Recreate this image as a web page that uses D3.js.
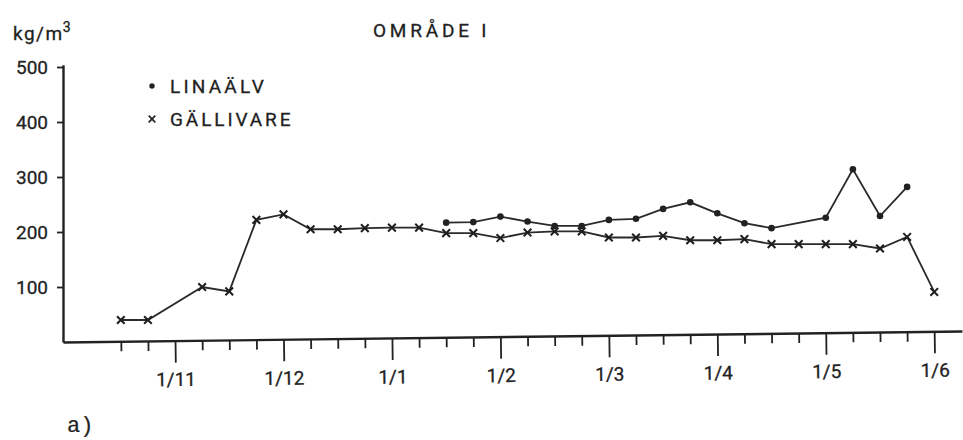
<!DOCTYPE html>
<html>
<head>
<meta charset="utf-8">
<script src="https://cdn.jsdelivr.net/npm/d3@7"></script>
<style>
  html, body { margin: 0; padding: 0; background: #ffffff; }
  svg { display: block; }
  text { font-family: Roboto, "Open Sans", sans-serif; fill: #222; stroke: #222; stroke-width: 0.3px; }
</style>
</head>
<body>
<svg id="chart" width="963" height="440"></svg>
<script>
// Time axis in months after 1 October (1 = 1/11, 8 = 1/6)
const monthTicks = [1, 2, 3, 4, 5, 6, 7, 8];
const monthLabels = ["1/11", "1/12", "1/1", "1/2", "1/3", "1/4", "1/5", "1/6"];
const minorTicks = d3.range(0.5, 8.01, 0.25);

const yTicks = [100, 200, 300, 400, 500];

const gallivareT = [0.5, 0.75, 1.25, 1.5, 1.75, 2.0, 2.25, 2.5, 2.75, 3.0, 3.25, 3.5, 3.75, 4.0, 4.25, 4.5, 4.75, 5.0, 5.25, 5.5, 5.75, 6.0, 6.25, 6.5, 6.75, 7.0, 7.25, 7.5, 7.75, 8.0];
const gallivareV = [40, 40, 100, 92, 222, 232, 205, 205, 207, 208, 208, 198, 198, 189, 199, 201, 201, 190, 190, 193, 185, 185, 187, 178, 178, 178, 178, 170, 191, 91];

const linaT = [3.5, 3.75, 4.0, 4.25, 4.5, 4.75, 5.0, 5.25, 5.5, 5.75, 6.0, 6.25, 6.5, 7.0, 7.25, 7.5, 7.75];
const linaV = [217, 218, 228, 219, 211, 211, 222, 224, 242, 254, 234, 216, 207, 226, 314, 229, 282];

const seriesNames = ["LINAÄLV", "GÄLLIVARE"];
const titleText = "OMRÅDE I";
const unitText = "kg/m";
const panelText = "a)";

const ink = "#222";
const svg = d3.select("#chart");
svg.append("rect").attr("width", 963).attr("height", 440).attr("fill", "#ffffff");

const x = d3.scaleLinear().domain([-0.033, 8.256]).range([63, 962]);
const y = d3.scaleLinear().domain([0, 504]).range([342, 64.8]);

// X axis (slightly tilted like the original drawing)
const xAxis = d3.axisBottom(x)
  .tickValues(minorTicks)
  .tickSize(22)
  .tickPadding(10)
  .tickSizeOuter(0)
  .tickFormat(d => {
    const i = monthTicks.indexOf(d);
    return i >= 0 ? monthLabels[i] : "";
  });
const gx = svg.append("g")
  .attr("transform", "translate(0,342) rotate(-0.7,63,0)")
  .call(xAxis);
gx.select(".domain").attr("stroke", ink).attr("stroke-width", 2.4);
gx.selectAll(".tick line")
  .attr("stroke", ink).attr("stroke-width", 1.8)
  .attr("y2", d => monthTicks.includes(d) ? 22 : 10);
gx.selectAll(".tick text")
  .attr("font-size", 19).attr("fill", ink);

// Y axis
const yAxis = d3.axisLeft(y).tickValues(yTicks).tickSize(6).tickPadding(9).tickSizeOuter(0);
const gy = svg.append("g").attr("transform", "translate(63,0)").call(yAxis);
gy.select(".domain").attr("stroke", ink).attr("stroke-width", 2.4);
gy.selectAll(".tick line").attr("stroke", ink).attr("stroke-width", 1.8);
gy.selectAll(".tick text").attr("font-size", 19).attr("fill", ink);

// Lines
const line = d3.line().x(d => x(d[0])).y(d => y(d[1]));
const gData = d3.zip(gallivareT, gallivareV);
const lData = d3.zip(linaT, linaV);

svg.append("path").datum(gData).attr("d", line)
  .attr("fill", "none").attr("stroke", "#2a2a2a").attr("stroke-width", 1.8);
svg.append("path").datum(lData).attr("d", line)
  .attr("fill", "none").attr("stroke", "#2a2a2a").attr("stroke-width", 1.8);

// Markers
const cross = d3.symbol().type(d3.symbolX).size(40);
svg.append("g").selectAll("path").data(gData).join("path")
  .attr("d", cross)
  .attr("transform", d => `translate(${x(d[0])},${y(d[1])})`)
  .attr("fill", "none").attr("stroke", "#1e1e1e").attr("stroke-width", 2);
svg.append("g").selectAll("circle").data(lData).join("circle")
  .attr("cx", d => x(d[0])).attr("cy", d => y(d[1])).attr("r", 3.3)
  .attr("fill", "#222");

// Legend
svg.append("circle").attr("cx", 152).attr("cy", 86).attr("r", 2.7).attr("fill", ink);
svg.append("path").attr("d", d3.symbol().type(d3.symbolX).size(30))
  .attr("transform", "translate(152,119)").attr("fill", "none").attr("stroke", ink).attr("stroke-width", 1.7);
svg.append("text").attr("x", 170).attr("y", 93).attr("font-size", 19).attr("letter-spacing", "3.2px").text(seriesNames[0]);
svg.append("text").attr("x", 170).attr("y", 126).attr("font-size", 19).attr("letter-spacing", "2.9px").text(seriesNames[1]);

// Title
svg.append("text").attr("x", 373).attr("y", 37).attr("font-size", 19).attr("letter-spacing", "3.8px").text(titleText);

// Unit label
const unit = svg.append("text").attr("x", 13).attr("y", 40).attr("font-size", 19).attr("letter-spacing", "1.5px");
unit.append("tspan").text(unitText);
unit.append("tspan").attr("font-size", 14).attr("dy", -8).attr("dx", -1).text("3");

// Panel label
svg.append("text").attr("x", 67).attr("y", 432).attr("font-size", 22)
  .style("font-family", "'Liberation Mono', 'DejaVu Sans Mono', monospace")
  .style("stroke-width", "0.2px")
  .text(panelText);
</script>
</body>
</html>
